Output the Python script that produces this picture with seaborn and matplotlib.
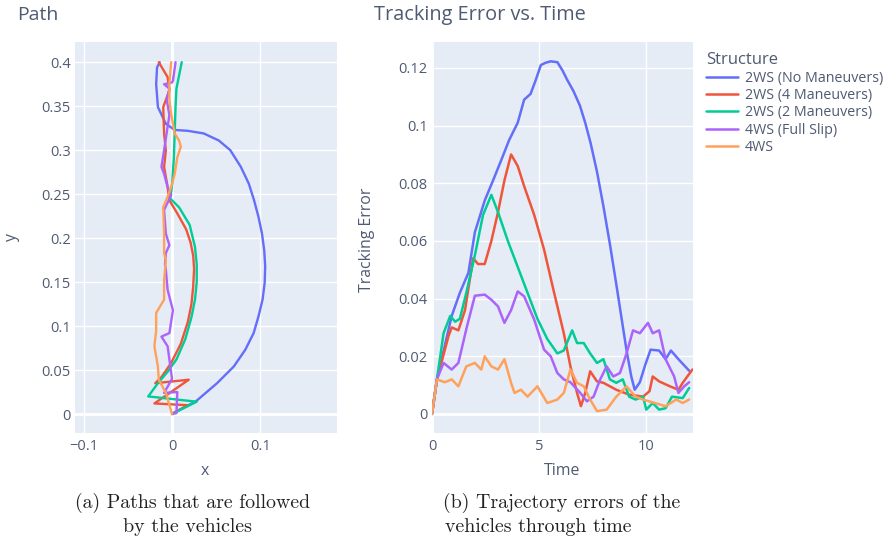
import numpy as np
import pandas as pd
import matplotlib
matplotlib.use("Agg")
import matplotlib.pyplot as plt
from matplotlib.ticker import FuncFormatter
import seaborn as sns

structures = ["2WS (No Maneuvers)", "2WS (4 Maneuvers)", "2WS (2 Maneuvers)",
              "4WS (Full Slip)", "4WS"]
colors = ["#636EFA", "#EF553B", "#00CC96", "#AB63FA", "#FFA15A"]

# path traces (x, y)
path_nomnv_x = [0.0, 0.003, 0.027, 0.051, 0.070, 0.083, 0.0925, 0.098, 0.1026, 0.105, 0.1056,
                0.1045, 0.102, 0.098, 0.093, 0.087, 0.078, 0.066, 0.053, 0.036, 0.018, 0.003,
                -0.007, -0.016, -0.018, -0.017, -0.014]
path_nomnv_y = [0.0, 0.002, 0.0144, 0.035, 0.054, 0.073, 0.092, 0.111, 0.130, 0.149, 0.168,
                0.186, 0.205, 0.224, 0.243, 0.262, 0.281, 0.300, 0.311, 0.319, 0.322, 0.323,
                0.330, 0.349, 0.375, 0.394, 0.400]

path_4mnv_x = [0.0, 0.018, -0.020, 0.019, -0.019, -0.012, -0.001, 0.010, 0.018, 0.022, 0.024,
               0.025, 0.024, 0.021, 0.016, 0.006, -0.003, -0.005, -0.009, -0.007, -0.009, -0.010,
               -0.003, -0.005, -0.015]
path_4mnv_y = [0.0, 0.010, 0.012, 0.039, 0.035, 0.042, 0.058, 0.080, 0.105, 0.125, 0.145,
               0.165, 0.180, 0.195, 0.210, 0.228, 0.243, 0.258, 0.281, 0.300, 0.319, 0.349,
               0.368, 0.383, 0.400]

path_2mnv_x = [0.0, 0.028, -0.027, -0.016, -0.005, 0.005, 0.015, 0.022, 0.026, 0.028, 0.028,
               0.026, 0.020, 0.008, -0.002, 0.0, 0.002, 0.003, 0.004, 0.005, 0.008, 0.011]
path_2mnv_y = [0.0, 0.014, 0.020, 0.035, 0.048, 0.062, 0.085, 0.110, 0.130, 0.150, 0.170,
               0.190, 0.215, 0.235, 0.245, 0.260, 0.290, 0.320, 0.350, 0.370, 0.385, 0.400]

path_slip_x = [0.0, 0.005, 0.006, -0.009, 0.0, -0.003, -0.005, -0.012, -0.003, 0.001, -0.005,
               -0.007, -0.008, -0.007, -0.003, -0.007, -0.009, -0.001, -0.005, -0.009, -0.012,
               -0.009, -0.006, -0.003, -0.006, -0.003, -0.009, 0.0, 0.001, 0.004]
path_slip_y = [0.0, 0.001, 0.025, 0.024, 0.040, 0.062, 0.077, 0.088, 0.092, 0.118, 0.141,
               0.164, 0.170, 0.183, 0.192, 0.205, 0.232, 0.249, 0.258, 0.273, 0.281,
               0.300, 0.320, 0.340, 0.357, 0.370, 0.375, 0.377, 0.379, 0.400]

path_4ws_x = [0.0, -0.007, -0.015, -0.016, -0.020, -0.018, -0.018, -0.009, -0.009, -0.007,
              -0.009, -0.009, -0.010, -0.005, -0.001, 0.003, 0.006, 0.010, 0.008, 0.003,
              -0.001, -0.003, -0.003, -0.001]
path_4ws_y = [0.0, 0.024, 0.039, 0.054, 0.077, 0.095, 0.115, 0.130, 0.152, 0.175,
              0.183, 0.205, 0.235, 0.247, 0.258, 0.273, 0.292, 0.304, 0.311, 0.319,
              0.341, 0.357, 0.375, 0.400]

# tracking error traces (time, error)
err_nomnv_t = [0, 0.23, 0.92, 1.3, 1.7, 2.0, 2.46, 2.85, 3.23, 3.6, 4.0, 4.3, 4.6, 4.85, 5.08,
               5.3, 5.54, 5.85, 6.1, 6.3, 6.6, 6.9, 7.15, 7.4, 7.7, 8.0, 8.3, 8.6, 8.85, 9.08,
               9.3, 9.46, 9.7, 9.95, 10.2, 10.6, 10.9, 11.15, 11.5, 12.0]
err_nomnv = [0, 0.012, 0.034, 0.042, 0.049, 0.063, 0.074, 0.081, 0.088, 0.095, 0.101, 0.109,
             0.111, 0.116, 0.121, 0.1218, 0.1223, 0.122, 0.119, 0.116, 0.112, 0.107, 0.101,
             0.094, 0.084, 0.072, 0.059, 0.045, 0.033, 0.022, 0.013, 0.0084, 0.011, 0.017,
             0.0223, 0.022, 0.019, 0.022, 0.019, 0.015]

err_4mnv_t = [0, 0.23, 0.77, 0.92, 1.23, 1.54, 1.92, 2.15, 2.46, 2.77, 3.08, 3.38, 3.69, 4.0,
              4.3, 4.77, 5.23, 5.7, 6.15, 6.46, 6.77, 6.95, 7.15, 7.38, 7.7, 8.0, 8.6, 9.2,
              9.85, 10.15, 10.3, 10.6, 11.1, 11.5, 11.7, 12.15]
err_4mnv = [0, 0.012, 0.027, 0.030, 0.029, 0.036, 0.054, 0.052, 0.052, 0.060, 0.070, 0.081,
            0.090, 0.086, 0.079, 0.069, 0.057, 0.042, 0.028, 0.0165, 0.0073, 0.0027, 0.0073,
            0.0148, 0.0113, 0.0108, 0.0084, 0.0067, 0.006, 0.0079, 0.013, 0.0113, 0.0096,
            0.0084, 0.0108, 0.0154]

err_2mnv_t = [0, 0.23, 0.54, 0.85, 1.08, 1.3, 1.6, 2.0, 2.38, 2.77, 3.08, 3.54, 4.0, 4.46, 4.92,
              5.38, 5.85, 6.15, 6.54, 6.77, 7.08, 7.38, 7.7, 8.0, 8.3, 8.6, 8.9, 9.2, 9.5,
              9.85, 10.0, 10.3, 10.6, 10.9, 11.2, 11.7, 12.0]
err_2mnv = [0, 0.012, 0.028, 0.034, 0.032, 0.033, 0.042, 0.055, 0.069, 0.076, 0.070, 0.060,
            0.051, 0.042, 0.033, 0.026, 0.021, 0.022, 0.029, 0.0246, 0.0246, 0.021, 0.0177,
            0.019, 0.012, 0.0108, 0.012, 0.006, 0.005, 0.006, 0.0015, 0.0038, 0.0015, 0.002,
            0.006, 0.0055, 0.009]

err_slip_t = [0, 0.23, 0.54, 0.92, 1.23, 1.62, 2.0, 2.46, 2.77, 3.08, 3.38, 3.69, 4.0, 4.3,
              4.77, 5.23, 5.54, 5.85, 6.15, 6.46, 6.92, 7.23, 7.54, 7.85, 8.15, 8.46, 8.77,
              9.08, 9.38, 9.7, 10.08, 10.3, 10.6, 10.9, 11.3, 11.5, 11.77, 12.0]
err_slip = [0, 0.012, 0.0177, 0.0154, 0.0177, 0.030, 0.041, 0.0414, 0.0396, 0.0373, 0.0316,
            0.036, 0.0425, 0.0408, 0.0327, 0.0223, 0.020, 0.0142, 0.012, 0.011, 0.0073, 0.0044,
            0.006, 0.012, 0.0165, 0.013, 0.0142, 0.021, 0.029, 0.028, 0.0316, 0.028, 0.029,
            0.019, 0.013, 0.0073, 0.0096, 0.011]

err_4ws_t = [0, 0.23, 0.6, 0.92, 1.23, 1.6, 2.0, 2.3, 2.46, 2.77, 3.08, 3.38, 3.69, 3.85, 4.15,
             4.46, 4.92, 5.38, 5.85, 6.15, 6.46, 6.77, 7.08, 7.38, 7.7, 8.15, 8.6, 9.08, 9.5,
             9.85, 10.4, 10.9, 11.4, 11.7, 12.0]
err_4ws = [0, 0.012, 0.011, 0.012, 0.0096, 0.0165, 0.0177, 0.0154, 0.020, 0.0165, 0.0154,
           0.019, 0.0108, 0.0073, 0.0084, 0.006, 0.0096, 0.0038, 0.005, 0.0073, 0.0154, 0.0108,
           0.0096, 0.005, 0.001, 0.0015, 0.006, 0.0096, 0.006, 0.005, 0.0038, 0.0027, 0.005,
           0.0038, 0.005]

paths = [(path_nomnv_x, path_nomnv_y), (path_4mnv_x, path_4mnv_y), (path_2mnv_x, path_2mnv_y),
         (path_slip_x, path_slip_y), (path_4ws_x, path_4ws_y)]
errors = [(err_nomnv_t, err_nomnv), (err_4mnv_t, err_4mnv), (err_2mnv_t, err_2mnv),
          (err_slip_t, err_slip), (err_4ws_t, err_4ws)]

path_df = pd.concat([pd.DataFrame({"x": px, "y": py, "Structure": s})
                     for s, (px, py) in zip(structures, paths)], ignore_index=True)
err_df = pd.concat([pd.DataFrame({"Time": t, "Tracking Error": e, "Structure": s})
                    for s, (t, e) in zip(structures, errors)], ignore_index=True)

txt = "#4f5b72"
sns.set_theme(style="darkgrid", rc={"axes.facecolor": "#E5ECF6", "grid.color": "white",
                                    "grid.linewidth": 1.0})
plt.rcParams["font.family"] = ["Open Sans", "DejaVu Sans"]

fig = plt.figure(figsize=(8.84, 5.43), dpi=100)
fig.patch.set_facecolor("white")
ax1 = fig.add_axes([75 / 884, 1 - 433 / 543, 262 / 884, 391 / 543])
ax2 = fig.add_axes([432 / 884, 1 - 433 / 543, 261 / 884, 391 / 543])

pal = dict(zip(structures, colors))
sns.lineplot(data=path_df, x="x", y="y", hue="Structure", palette=pal, sort=False,
             estimator=None, ax=ax1, linewidth=1.7, legend=False)
sns.lineplot(data=err_df, x="Time", y="Tracking Error", hue="Structure", palette=pal,
             sort=False, estimator=None, ax=ax2, linewidth=1.8)

fmt = FuncFormatter(lambda v, p: ("%g" % round(v, 4)).replace("-", "\u2212"))
ax1.set_xlim(-0.11, 0.187)
ax1.set_ylim(-0.0216, 0.423)
ax1.set_xticks([-0.1, 0, 0.1])
ax1.set_yticks(np.arange(0, 0.401, 0.05))
ax2.set_xlim(0, 12.18)
ax2.set_ylim(-0.0066, 0.129)
ax2.set_xticks([0, 5, 10])
ax2.set_yticks(np.arange(0, 0.121, 0.02))

for ax in (ax1, ax2):
    ax.xaxis.set_major_formatter(fmt)
    ax.yaxis.set_major_formatter(fmt)
    ax.tick_params(length=0, labelsize=10.5, labelcolor=txt)
    ax.tick_params(axis="y", pad=3)
    ax.tick_params(axis="x", pad=4)
    ax.set_xlabel("")
    ax.set_ylabel("")
    for sp in ax.spines.values():
        sp.set_visible(False)
ax1.axvline(0, color="white", lw=2, zorder=1)
ax1.axhline(0, color="white", lw=2, zorder=1)
ax2.axhline(0, color="white", lw=2, zorder=1)
ax2.axvline(0, color="white", lw=2, zorder=1)

fig.text(17 / 884, 1 - 15 / 543, "Path", fontsize=14, color=txt, va="center")
fig.text(374 / 884, 1 - 15 / 543, "Tracking Error vs. Time", fontsize=14.3, color=txt,
         va="center")
fig.text(12 / 884, 1 - 237 / 543, "y", fontsize=11.4, color=txt, rotation=90, ha="center",
         va="center")
fig.text(367 / 884, 1 - 240 / 543, "Tracking Error", fontsize=11.4, color=txt, rotation=90,
         ha="center", va="center")
fig.text(205 / 884, 1 - 471 / 543, "x", fontsize=11.4, color=txt, ha="center", va="center")
fig.text(562 / 884, 1 - 471 / 543, "Time", fontsize=11.4, color=txt, ha="center", va="center")

handles, labels = ax2.get_legend_handles_labels()
leg = ax2.legend(handles, labels, title="Structure", loc="upper left", frameon=False,
                 bbox_to_anchor=(699 / 884, 1 - 45 / 543), bbox_transform=fig.transFigure,
                 fontsize=10.3, title_fontsize=12, handlelength=2.2, labelspacing=0.17,
                 handletextpad=0.5, borderpad=0, alignment="left")
for t in leg.get_texts():
    t.set_color(txt)
leg.get_title().set_color(txt)

cap = dict(fontsize=14.3, family="cmr10", color="#222222", va="center")
fig.text(193 / 884, 1 - 503 / 543, "(a) Paths that are followed", ha="center", **cap)
fig.text(187 / 884, 1 - 527 / 543, "by the vehicles", ha="center", **cap)
fig.text(443 / 884, 1 - 503 / 543, "(b) Trajectory errors of the", ha="left", **cap)
fig.text(445 / 884, 1 - 527 / 543, "vehicles through time", ha="left", **cap)

fig.savefig("out.png", dpi=100, facecolor="white")
